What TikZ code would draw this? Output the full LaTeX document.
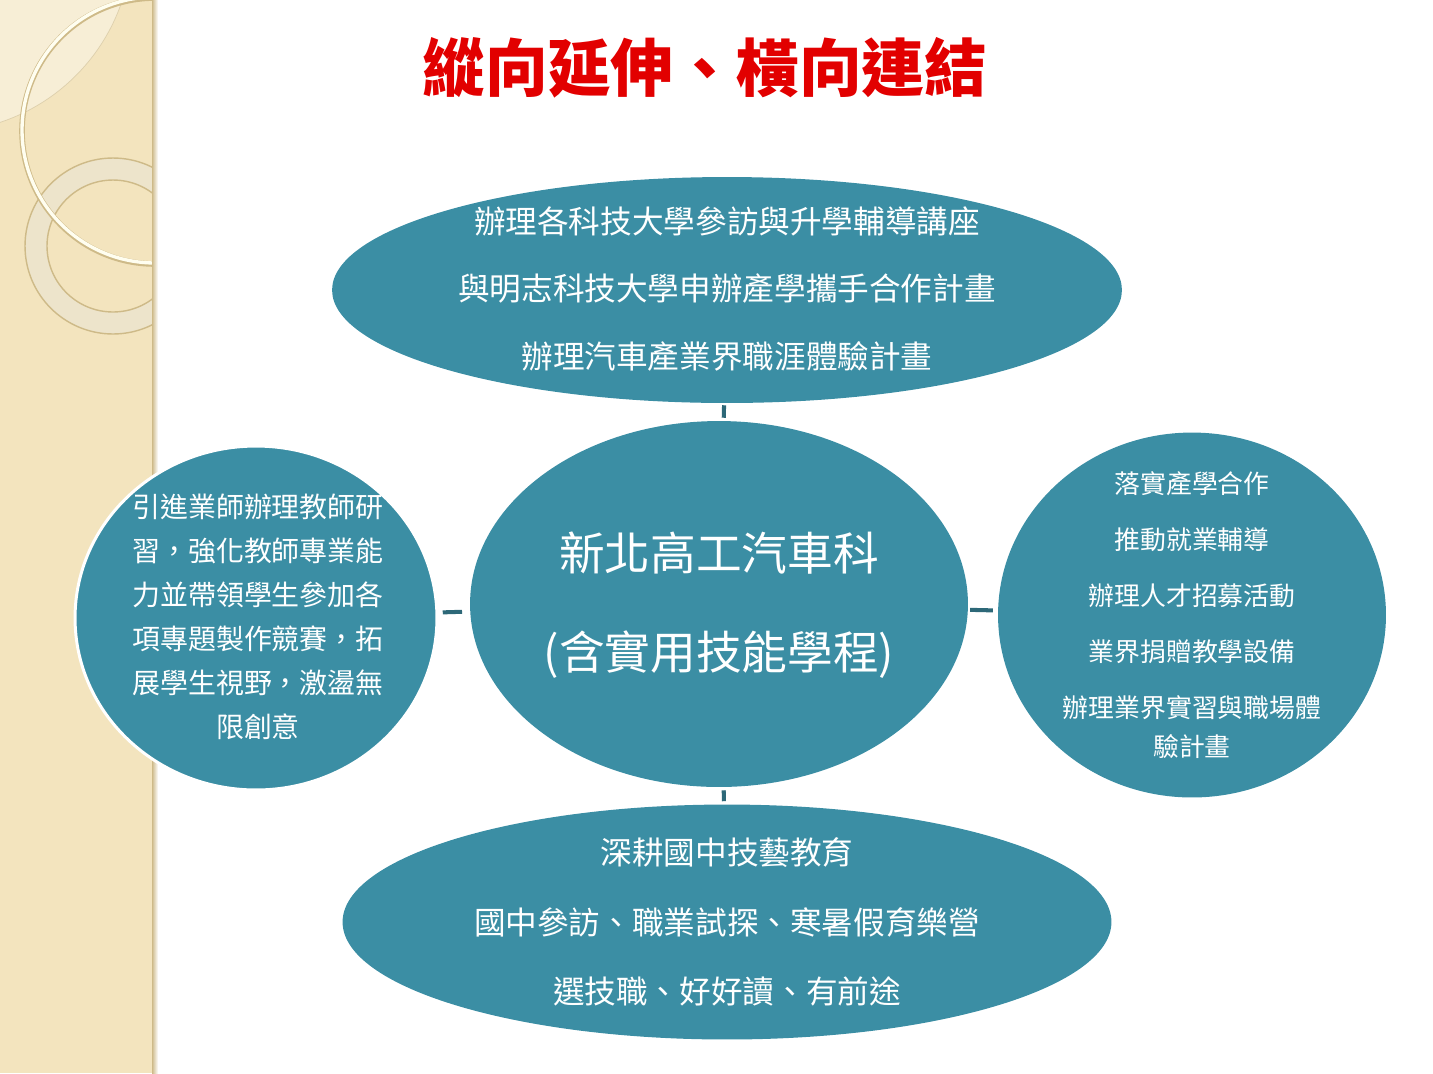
\documentclass[tikz,border=0pt]{standalone}
\usepackage{fontspec}
\newfontfamily\cjk{Noto Sans CJK TC}
\usepackage{tikz}
\usetikzlibrary{shapes.geometric}
\definecolor{panelteal}{RGB}{59,142,164}
\definecolor{linkteal}{RGB}{45,104,120}
\definecolor{titlered}{RGB}{226,0,0}
\definecolor{sand}{RGB}{243,228,190}
\definecolor{sandlight}{RGB}{247,238,214}
\definecolor{ringgold}{RGB}{206,186,136}
\definecolor{ringpale}{RGB}{236,228,206}

\begin{document}
\begin{tikzpicture}[x=0.02cm, y=-0.02cm,
    panel/.style={ellipse, fill=panelteal, inner sep=0pt},
    words/.style={text=white, align=center, inner sep=0pt},
    link/.style={draw=linkteal, line width=2.3pt}]
\useasboundingbox (0,0) rectangle (1433,1073);
% side band
\begin{scope}
  \clip (0,0) rectangle (155,1073);
  \fill[sand] (0,0) rectangle (155,1073);
  \fill[sandlight] (-60,-60) circle[radius=3.84cm];
  \draw[ringgold!70, line width=0.4pt] (-60,-60) circle[radius=3.84cm];
  \draw[ringpale, opacity=0.85, line width=12.5pt] (113,246) circle[radius=1.54cm];
  \draw[ringgold, line width=0.8pt] (113,246) circle[radius=1.76cm];
  \draw[ringgold, line width=0.8pt] (113,246) circle[radius=1.32cm];
  \draw[ringgold, line width=3.2pt] (155,131) circle[radius=2.66cm];
  \draw[white!94!yellow, line width=1.9pt] (155,130) circle[radius=2.66cm];
\end{scope}
\shade[left color=ringgold, right color=white] (152,0) rectangle (158,1073);

% title
\node[font=\cjk\bfseries\fontsize{35.7}{40}\selectfont, text=titlered] (title) at (705,68) {縱向延伸、橫向連結};

% panels
\node[panel, minimum width=15.8cm, minimum height=4.52cm] (plan) at (727,290) {};
\node[panel, minimum width=9.96cm, minimum height=7.32cm] (hub) at (719,604) {};
\node[panel, draw=white, line width=1.7pt, minimum width=7.24cm, minimum height=6.88cm] (left) at (256,618) {};
\node[panel, minimum width=7.76cm, minimum height=7.30cm] (right) at (1192,615) {};
\node[panel, minimum width=15.38cm, minimum height=4.70cm] (bottom) at (727,922) {};

% texts
\node[words, font=\cjk\fontsize{18}{38.6}\selectfont] (plantext) at (727,289) {辦理各科技大學參訪與升學輔導講座\\與明志科技大學申辦產學攜手合作計畫\\辦理汽車產業界職涯體驗計畫};
\node[words, font=\cjk\fontsize{26}{56.7}\selectfont] (hubtext) at (719,605) {新北高工汽車科\\(含實用技能學程)};
\node[words, font=\cjk\fontsize{15.9}{25}\selectfont] (lefttext) at (258,617) {引進業師辦理教師研\\習，強化教師專業能\\力並帶領學生參加各\\項專題製作競賽，拓\\展學生視野，激盪無\\限創意};
\node[words, font=\cjk\fontsize{14.7}{22}\selectfont] (righttext) at (1192,615) {落實產學合作\\[9.8pt]推動就業輔導\\[9.8pt]辦理人才招募活動\\[9.8pt]業界捐贈教學設備\\[9.8pt]辦理業界實習與職場體\\驗計畫};
\node[words, font=\cjk\fontsize{18}{39.5}\selectfont] (bottomtext) at (727,922) {深耕國中技藝教育\\國中參訪、職業試探、寒暑假育樂營\\選技職、好好讀、有前途};

% links
\draw[link, shorten <=1.7pt, shorten >=1.1pt] (hub) -- (plan);
\draw[link, shorten <=1.7pt, shorten >=1.7pt] (hub) -- (bottom);
\draw[link, shorten <=4.5pt, shorten >=2.5pt] (hub) -- (left);
\draw[link, shorten <=1.1pt, shorten >=2.8pt] (hub) -- (right);
\end{tikzpicture}
\end{document}
